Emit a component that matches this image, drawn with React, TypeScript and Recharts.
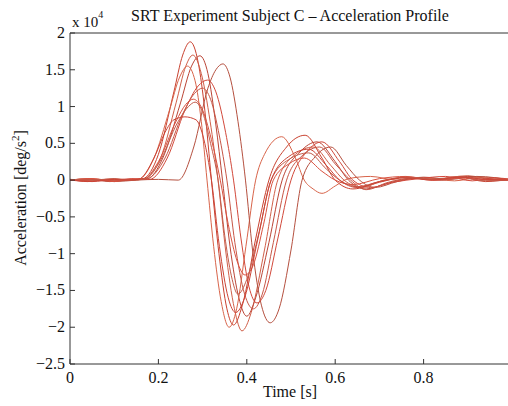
import React from 'react';
import { LineChart, Line, XAxis, YAxis } from 'recharts';

// trial curves, acceleration in units of 1e4 deg/s^2
const trialA_t = [0, 0.04, 0.08, 0.12, 0.165, 0.2, 0.235, 0.255, 0.272, 0.29, 0.305, 0.32, 0.337, 0.355, 0.37, 0.39, 0.42, 0.45, 0.49, 0.532, 0.57, 0.6, 0.64, 0.7, 0.76, 0.82, 0.88, 0.94, 1.0];
const trialA_v = [0.01, -0.02, 0.01, 0.0, 0.02, 0.35, 1.2, 1.7, 1.88, 1.6, 0.95, 0.0, -1.0, -1.75, -1.97, -1.7, -0.8, 0.0, 0.45, 0.61, 0.3, 0.0, -0.12, -0.03, 0.04, 0.0, 0.05, -0.02, 0.02];

const trialB_t = [0, 0.05, 0.1, 0.14, 0.17, 0.205, 0.24, 0.262, 0.278, 0.297, 0.317, 0.335, 0.352, 0.372, 0.389, 0.41, 0.44, 0.47, 0.51, 0.55, 0.59, 0.62, 0.66, 0.71, 0.77, 0.83, 0.9, 0.96, 1.0];
const trialB_v = [0.0, -0.01, 0.02, 0.0, 0.02, 0.3, 1.05, 1.55, 1.7, 1.45, 0.8, 0.0, -0.95, -1.75, -2.05, -1.8, -0.95, 0.0, 0.35, 0.45, 0.2, 0.0, -0.1, 0.0, 0.04, 0.02, 0.06, 0.0, 0.01];

const trialC_t = [0, 0.04, 0.09, 0.13, 0.175, 0.21, 0.25, 0.275, 0.294, 0.312, 0.33, 0.345, 0.362, 0.382, 0.4, 0.42, 0.45, 0.48, 0.52, 0.559, 0.6, 0.63, 0.67, 0.72, 0.78, 0.84, 0.9, 0.95, 1.0];
const trialC_v = [0.0, 0.02, -0.02, 0.01, 0.02, 0.3, 1.05, 1.55, 1.69, 1.45, 0.75, 0.0, -0.9, -1.6, -1.85, -1.6, -0.85, 0.0, 0.38, 0.52, 0.25, 0.0, -0.12, -0.04, 0.03, 0.0, 0.05, 0.02, 0.0];

const trialD_t = [0, 0.05, 0.1, 0.155, 0.19, 0.225, 0.248, 0.266, 0.283, 0.297, 0.31, 0.325, 0.342, 0.36, 0.377, 0.398, 0.42, 0.44, 0.479, 0.51, 0.53, 0.55, 0.57, 0.6, 0.63, 0.68, 0.74, 0.8, 0.87, 0.93, 1.0];
const trialD_v = [0, 0.02, -0.01, 0.01, 0.3, 0.95, 1.4, 1.55, 1.35, 0.8, 0.0, -0.9, -1.65, -2.0, -1.75, -0.9, 0.0, 0.35, 0.59, 0.3, 0.0, -0.12, -0.18, -0.08, 0.02, 0.05, 0.0, 0.03, -0.01, 0.04, 0.0];

const trialE_t = [0, 0.05, 0.1, 0.15, 0.2, 0.245, 0.28, 0.312, 0.33, 0.346, 0.362, 0.38, 0.397, 0.413, 0.433, 0.453, 0.473, 0.5, 0.525, 0.555, 0.59, 0.625, 0.655, 0.69, 0.74, 0.8, 0.86, 0.92, 1.0];
const trialE_v = [0.0, 0.01, -0.02, 0.0, 0.01, 0.0, 0.45, 1.25, 1.5, 1.58, 1.4, 0.8, 0.0, -0.95, -1.7, -1.94, -1.75, -0.95, 0.0, 0.32, 0.45, 0.2, 0.0, -0.1, -0.02, 0.04, 0.01, 0.05, 0.0];

const trialF_t = [0, 0.05, 0.1, 0.14, 0.18, 0.22, 0.26, 0.29, 0.311, 0.33, 0.352, 0.37, 0.387, 0.405, 0.423, 0.443, 0.47, 0.5, 0.535, 0.57, 0.61, 0.64, 0.68, 0.73, 0.79, 0.85, 0.91, 0.96, 1.0];
const trialF_v = [0.01, -0.01, 0.0, 0.02, 0.01, 0.3, 0.95, 1.28, 1.36, 1.2, 0.65, 0.0, -0.8, -1.45, -1.67, -1.5, -0.8, 0.0, 0.38, 0.52, 0.25, 0.0, -0.1, -0.03, 0.02, 0.05, -0.01, 0.03, 0.01];

const trialG_t = [0, 0.04, 0.09, 0.135, 0.175, 0.215, 0.255, 0.282, 0.3, 0.318, 0.338, 0.355, 0.373, 0.395, 0.415, 0.435, 0.46, 0.49, 0.525, 0.565, 0.6, 0.635, 0.67, 0.72, 0.78, 0.84, 0.9, 0.95, 1.0];
const trialG_v = [0.0, 0.01, -0.01, 0.0, 0.02, 0.3, 0.9, 1.18, 1.25, 1.1, 0.6, 0.0, -0.85, -1.55, -1.75, -1.55, -0.85, 0.0, 0.33, 0.45, 0.22, 0.0, -0.13, -0.03, 0.03, 0.0, 0.04, 0.0, 0.02];

const trialH_t = [0, 0.05, 0.1, 0.135, 0.165, 0.2, 0.24, 0.262, 0.279, 0.298, 0.32, 0.34, 0.358, 0.378, 0.396, 0.415, 0.438, 0.46, 0.495, 0.53, 0.57, 0.6, 0.64, 0.7, 0.76, 0.82, 0.88, 0.94, 1.0];
const trialH_v = [0.0, 0.02, -0.02, 0.01, 0.01, 0.25, 0.8, 1.03, 1.1, 0.98, 0.55, 0.0, -0.6, -1.1, -1.29, -1.15, -0.6, 0.0, 0.22, 0.3, 0.12, 0.0, -0.06, 0.02, 0.05, 0.0, 0.03, 0.0, 0.01];

const trialI_t = [0, 0.05, 0.1, 0.13, 0.165, 0.2, 0.245, 0.268, 0.283, 0.3, 0.318, 0.335, 0.35, 0.365, 0.38, 0.4, 0.428, 0.455, 0.495, 0.54, 0.58, 0.61, 0.65, 0.7, 0.76, 0.82, 0.88, 0.94, 1.0];
const trialI_v = [0.01, 0.0, 0.02, 0.0, 0.01, 0.22, 0.8, 1.0, 1.06, 0.92, 0.5, 0.0, -0.75, -1.3, -1.55, -1.35, -0.7, 0.0, 0.28, 0.37, 0.15, 0.0, -0.09, -0.02, 0.04, 0.01, 0.04, -0.01, 0.0];

const trialJ_t = [0, 0.05, 0.1, 0.125, 0.155, 0.19, 0.215, 0.235, 0.26, 0.285, 0.303, 0.32, 0.338, 0.358, 0.375, 0.395, 0.425, 0.455, 0.495, 0.54, 0.58, 0.61, 0.65, 0.7, 0.76, 0.82, 0.88, 0.94, 1.0];
const trialJ_v = [0.0, -0.02, 0.01, 0.0, 0.01, 0.3, 0.65, 0.82, 0.86, 0.82, 0.55, 0.0, -0.9, -1.6, -1.8, -1.6, -0.8, 0.0, 0.32, 0.42, 0.2, 0.0, -0.1, -0.02, 0.03, 0.0, 0.04, 0.01, 0.0];

const trialTimes = [trialA_t, trialB_t, trialC_t, trialD_t, trialE_t, trialF_t, trialG_t, trialH_t, trialI_t, trialJ_t];
const trialValues = [trialA_v, trialB_v, trialC_v, trialD_v, trialE_v, trialF_v, trialG_v, trialH_v, trialI_v, trialJ_v];

// the 1.0 tick sits just past the right edge of the picture
const xTicks = [0, 0.2, 0.4, 0.6, 0.8];
const yTicks = [-2.5, -2, -1.5, -1, -0.5, 0, 0.5, 1, 1.5, 2];

const lineColors = ['#c9412f', '#d0604a', '#bb4536', '#d8644a', '#b5503f', '#d2483a', '#c75646', '#d9513f', '#c25b4a', '#cc4436'];

const FONT = '"Liberation Serif", "Times New Roman", serif';
const AXIS = '#333';

const fmt = (v: number) => (v < 0 ? '\u2212' + Math.abs(v) : String(v));

const series = trialTimes.map((ts, i) => ts.map((t, j) => ({ t, v: trialValues[i][j] })));

const BottomTick = ({ x, y, payload }: any) => (
  <g>
    <line x1={x} x2={x} y1={y} y2={y - 5} stroke={AXIS} />
    <text x={x} y={y + 19} textAnchor="middle" fontSize={16} fontFamily={FONT} fill="#111">
      {fmt(payload.value)}
    </text>
  </g>
);

const TopTick = ({ x, y }: any) => <line x1={x} x2={x} y1={y} y2={y + 5} stroke={AXIS} />;

const LeftTick = ({ x, y, payload }: any) => (
  <g>
    <line x1={x} x2={x + 5} y1={y} y2={y} stroke={AXIS} />
    <text x={x - 5} y={y + 5} textAnchor="end" fontSize={16} fontFamily={FONT} fill="#111">
      {fmt(payload.value)}
    </text>
  </g>
);

export default function App() {
  return (
    <div style={{ position: 'fixed', left: 0, top: 0, width: 508, height: 406, overflow: 'hidden', background: '#fff' }}>
      <LineChart width={520} height={406} margin={{ top: 0, right: 8, bottom: 0, left: 0 }}>
        <XAxis
          dataKey="t"
          type="number"
          domain={[0, 1]}
          ticks={xTicks}
          height={42}
          tickSize={0}
          tickMargin={0}
          tickLine={false}
          axisLine={{ stroke: AXIS }}
          tick={<BottomTick />}
          interval={0}
        />
        <XAxis
          xAxisId="top"
          orientation="top"
          dataKey="t"
          type="number"
          domain={[0, 1]}
          ticks={xTicks}
          height={33}
          tickSize={0}
          tickMargin={0}
          tickLine={false}
          axisLine={{ stroke: AXIS }}
          tick={<TopTick />}
          interval={0}
        />
        <YAxis
          type="number"
          domain={[-2.5, 2]}
          ticks={yTicks}
          width={70}
          tickSize={0}
          tickMargin={0}
          tickLine={false}
          axisLine={{ stroke: AXIS }}
          tick={<LeftTick />}
          interval={0}
        />
        {series.map((pts, i) => (
          <Line
            key={i}
            data={pts}
            dataKey="v"
            type="monotone"
            stroke={lineColors[i]}
            strokeWidth={1}
            dot={false}
            activeDot={false}
            isAnimationActive={false}
          />
        ))}
      </LineChart>
      <svg width={508} height={406} style={{ position: 'absolute', left: 0, top: 0, pointerEvents: 'none' }}>
        <text x={290} y={21} textAnchor="middle" fontSize={16} fontFamily={FONT} fill="#111">
          SRT Experiment Subject C – Acceleration Profile
        </text>
        <text x={72} y={27} fontSize={15} fontFamily={FONT} fill="#111">
          x 10
          <tspan fontSize={10} dy={-9}>4</tspan>
        </text>
        <text x={26} y={198} transform="rotate(-90 26 198)" textAnchor="middle" fontSize={16} fontFamily={FONT} fill="#111">
          Acceleration [deg/s
          <tspan fontSize={11} dy={-7}>2</tspan>
          <tspan dy={7}>]</tspan>
        </text>
        <text x={290} y={397} textAnchor="middle" fontSize={16} fontFamily={FONT} fill="#111">
          Time [s]
        </text>
      </svg>
    </div>
  );
}
